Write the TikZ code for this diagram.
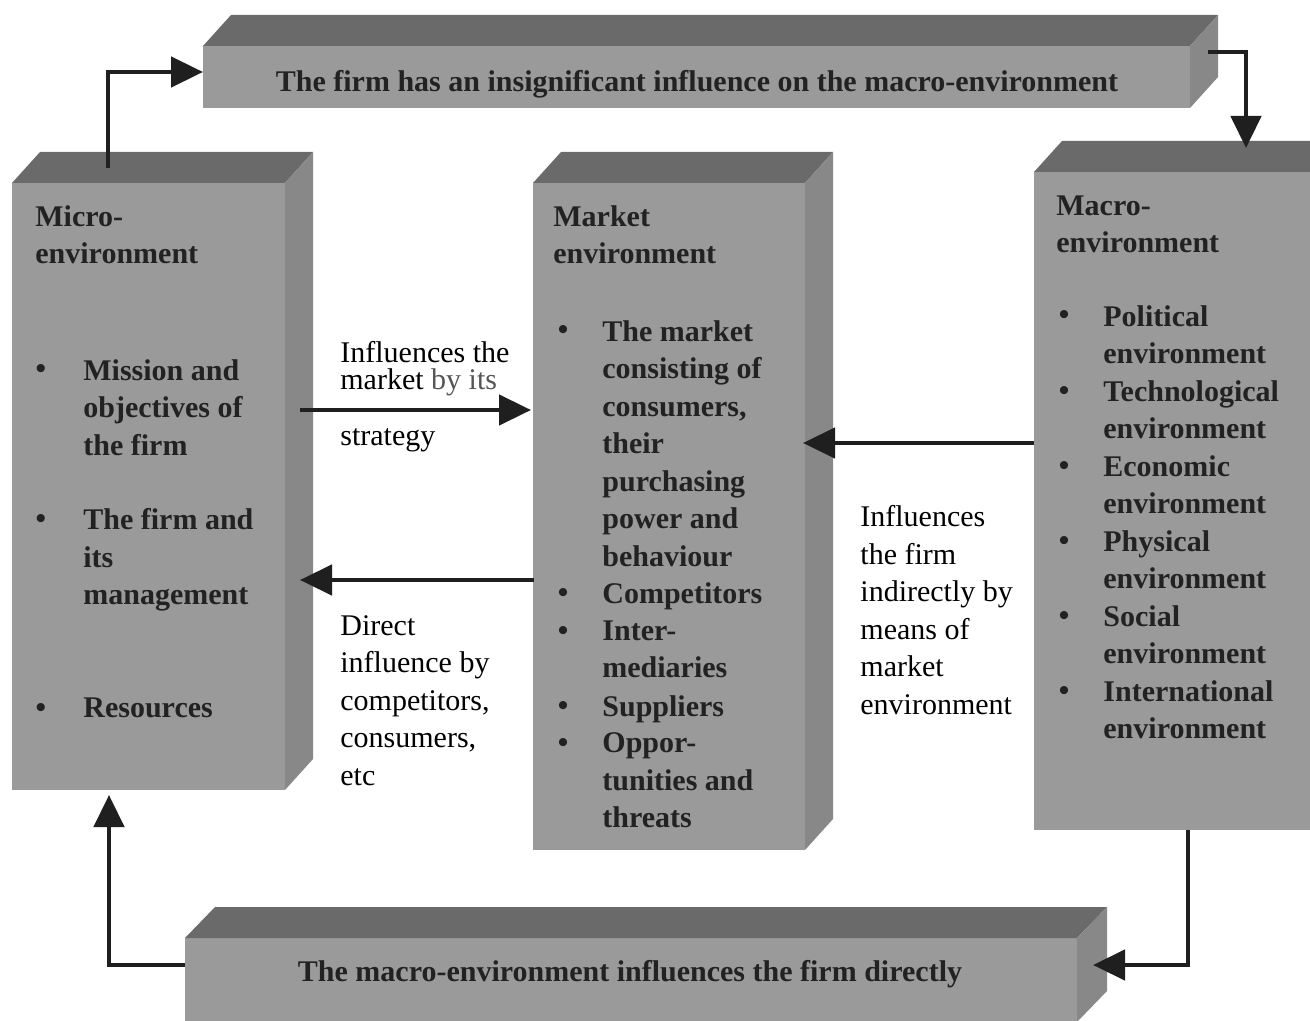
\documentclass[tikz,border=0pt]{standalone}
\usepackage{fontspec}
\setmainfont{Liberation Serif}
\usetikzlibrary{arrows.meta,calc}
\definecolor{frontc}{RGB}{154,154,154}
\definecolor{topc}{RGB}{106,106,106}
\definecolor{sidec}{RGB}{136,136,136}
\definecolor{txtc}{RGB}{34,34,34}
\definecolor{byc}{RGB}{85,85,85}
\newcommand\prismfaces[3]{%
  \fill[topc] (#1.north west) -- ++(#2,#3) -- ($(#1.north east)+(#2,#3)$) -- (#1.north east) -- cycle;
  \fill[sidec] (#1.north east) -- ++(#2,#3) -- ($(#1.south east)+(#2,#3)$) -- (#1.south east) -- cycle;}
\begin{document}
\begin{tikzpicture}[x=0.5pt,y=-0.5pt,
  frontbox/.style={fill=frontc,draw=none,inner sep=0pt,outer sep=0pt},
  bx/.style={font=\fontsize{15}{18.75}\selectfont\bfseries,text=txtc,align=left,inner sep=0pt,anchor=north west},
  bartxt/.style={font=\fontsize{15}{18.75}\selectfont\bfseries,text=txtc,inner sep=0pt,anchor=base},
  bul/.style={font=\fontsize{15}{18.75}\selectfont\bfseries,text=txtc,inner sep=0pt,anchor=base},
  lbl/.style={font=\fontsize{15}{18.75}\selectfont,text=black,align=left,inner sep=0pt,anchor=north west},
  lblb/.style={font=\fontsize{15}{18.75}\selectfont,text=black,inner sep=0pt,anchor=base west},
  arr/.style={line width=2.3pt,draw=black!88,-{Triangle[length=16pt,width=15pt]}}]
\useasboundingbox (0,0) rectangle (1310,1021);
\clip (0,0) rectangle (1310,1021);
\fill[white] (0,0) rectangle (1310,1021);

% boxes
\node[frontbox,minimum width=493.5pt,minimum height=31pt] (topbar) at (696.5,77) {};
\prismfaces{topbar}{28}{-31}
\node[frontbox,minimum width=136.5pt,minimum height=303.5pt] (micro) at (148.5,486.5) {};
\prismfaces{micro}{28}{-31}
\node[frontbox,minimum width=136pt,minimum height=333.5pt] (market) at (669,516.5) {};
\prismfaces{market}{28}{-31}
\node[frontbox,minimum width=140pt,minimum height=329pt] (macro) at (1174,501) {};
\prismfaces{macro}{28}{-31}
\node[frontbox,minimum width=446pt,minimum height=42pt] (botbar) at (631,980) {};
\prismfaces{botbar}{30}{-31}

% connectors
\coordinate (a1s) at ($(micro.north west)+(96,-15)$);
\draw[arr] (a1s) |- ([yshift=2.5pt]topbar.west);
\coordinate (a2s) at ($(topbar.north east)+(18,6)$);
\coordinate (a2e) at ($(macro.north west)+(212,-24)$);
\draw[arr] (a2s) -| (a2e);
\coordinate (a3s) at ($(macro.south west)+(154,0)$);
\coordinate (a3e) at ($(botbar.east)+(16,-15)$);
\draw[arr] (a3s) |- (a3e);
\coordinate (a4e) at ($(micro.south west)+(97,5)$);
\draw[arr] ([yshift=7.5pt]botbar.west) -| (a4e);
\draw[arr] ($(micro.north east)+(15,227)$) -- ($(market.north west)+(-2,227)$);
\draw[arr] ($(market.north west)+(1,397)$) -- ($(micro.north east)+(15,397)$);
\draw[arr] ($(macro.north west)+(0,271)$) -- ($(market.north east)+(-2,260)$);

% bar texts
\node[bartxt] (toptext) at (697,92) {The firm has an insignificant influence on the macro-environment};
\node[bartxt] (bottext) at (630,981) {The macro-environment influences the firm directly};

% micro box
\node[bx] (mih) at (35,205) {Micro-\\environment};
\node[bx] (mi1) at (83,359) {Mission and\\objectives of\\the firm};
\node[bx] (mi2) at (83,508) {The firm and\\its\\management};
\node[bx] (mi3) at (83,697) {Resources};
\node[bul] (mb1) at (41,379) {•};
\node[bul] (mb2) at (41,528) {•};
\node[bul] (mb3) at (41,717) {•};

% market box
\node[bx] (mah) at (553,205) {Market\\environment};
\node[bx] (ma1) at (602,320) {The market\\consisting of\\consumers,\\their\\purchasing\\power and\\behaviour};
\node[bx] (ma2) at (602,582.5) {Competitors};
\node[bx] (ma3) at (602,620) {Inter-\\mediaries};
\node[bx] (ma4) at (602,695) {Suppliers};
\node[bx] (ma5) at (602,732.5) {Oppor-\\tunities and\\threats};
\node[bul] (mab1) at (563,340) {•};
\node[bul] (mab2) at (563,602.5) {•};
\node[bul] (mab3) at (563,640) {•};
\node[bul] (mab4) at (563,715) {•};
\node[bul] (mab5) at (563,752.5) {•};

% macro box
\node[bx] (mch) at (1056,195) {Macro-\\environment};
\node[bx] (mc1) at (1103,305) {Political\\environment};
\node[bx] (mc2) at (1103,380) {Technological\\environment};
\node[bx] (mc3) at (1103,455) {Economic\\environment};
\node[bx] (mc4) at (1103,530) {Physical\\environment};
\node[bx] (mc5) at (1103,605) {Social\\environment};
\node[bx] (mc6) at (1103,680) {International\\environment};
\node[bul] (mcb1) at (1064,325) {•};
\node[bul] (mcb2) at (1064,400) {•};
\node[bul] (mcb3) at (1064,475) {•};
\node[bul] (mcb4) at (1064,550) {•};
\node[bul] (mcb5) at (1064,625) {•};
\node[bul] (mcb6) at (1064,700) {•};

% connector labels
\node[lblb] (l1a) at (340,362) {Influences the};
\node[lblb] (l1b) at (340,389) {market \textcolor{byc}{by its}};
\node[lblb] (l1c) at (340,445) {strategy};
\node[lbl] (l2) at (340,615) {Direct\\influence by\\competitors,\\consumers,\\etc};
\node[lbl] (l3) at (860,505) {Influences\\the firm\\indirectly by\\means of\\market\\environment};
\end{tikzpicture}
\end{document}
